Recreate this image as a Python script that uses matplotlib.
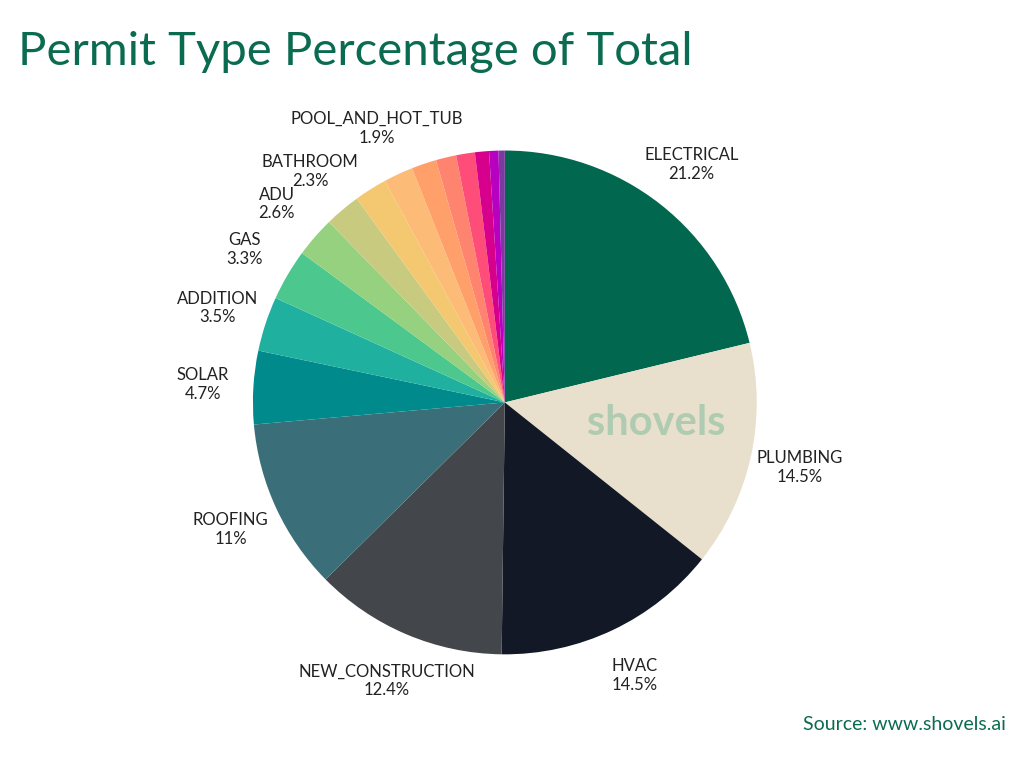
import matplotlib.pyplot as plt

names = ["ELECTRICAL", "PLUMBING", "HVAC", "NEW_CONSTRUCTION", "ROOFING", "SOLAR",
         "ADDITION", "GAS", "ADU", "BATHROOM", "", "POOL_AND_HOT_TUB", "", "", "", "", "", ""]
values = [21.2, 14.5, 14.5, 12.4, 11, 4.7, 3.5, 3.3, 2.6, 2.3, 2.1, 1.9, 1.6, 1.3, 1.2, 0.9, 0.6, 0.4]
pct_text = ["21.2%", "14.5%", "14.5%", "12.4%", "11%", "4.7%", "3.5%", "3.3%", "2.6%", "2.3%",
            "", "1.9%", "", "", "", "", "", ""]
colors = ["#02674f", "#e8e0cc", "#121826", "#43474b", "#3a6f7a", "#008a8c", "#20b0a0",
          "#4cc88f", "#95d17f", "#c8cb7f", "#f4c870", "#fdbb78", "#ffa06a", "#ff8470",
          "#ff4d7a", "#d6008c", "#b800c0", "#7a3aa0"]

labels = [n + "\n" + p if n else "" for n, p in zip(names, pct_text)]

fig = plt.figure(figsize=(10.24, 7.68), dpi=100)
plt.rcParams["font.family"] = "Lato"
fig.text(0.018, 0.915, "Permit Type Percentage of Total", fontsize=34, color="#0b6b50")
fig.text(0.982, 0.05, "Source: www.shovels.ai", fontsize=14, color="#0b6b50", ha="right")

ax = fig.add_axes([0.247, 0.148, 0.492, 0.656])
wedges, texts = ax.pie(values, labels=labels, colors=colors, startangle=90,
                       counterclock=False, labeldistance=1.2,
                       textprops=dict(fontsize=12, color="#222222", ha="center", va="center"))
ax.set_xlim(-1, 1)
ax.set_ylim(-1, 1)
ax.set_aspect("equal")
ax.text(0.6, -0.08, "shovels", fontsize=30, color="#a9c9b0", ha="center", va="center",
        fontweight="bold", alpha=0.9)

fig.savefig("out.png")
